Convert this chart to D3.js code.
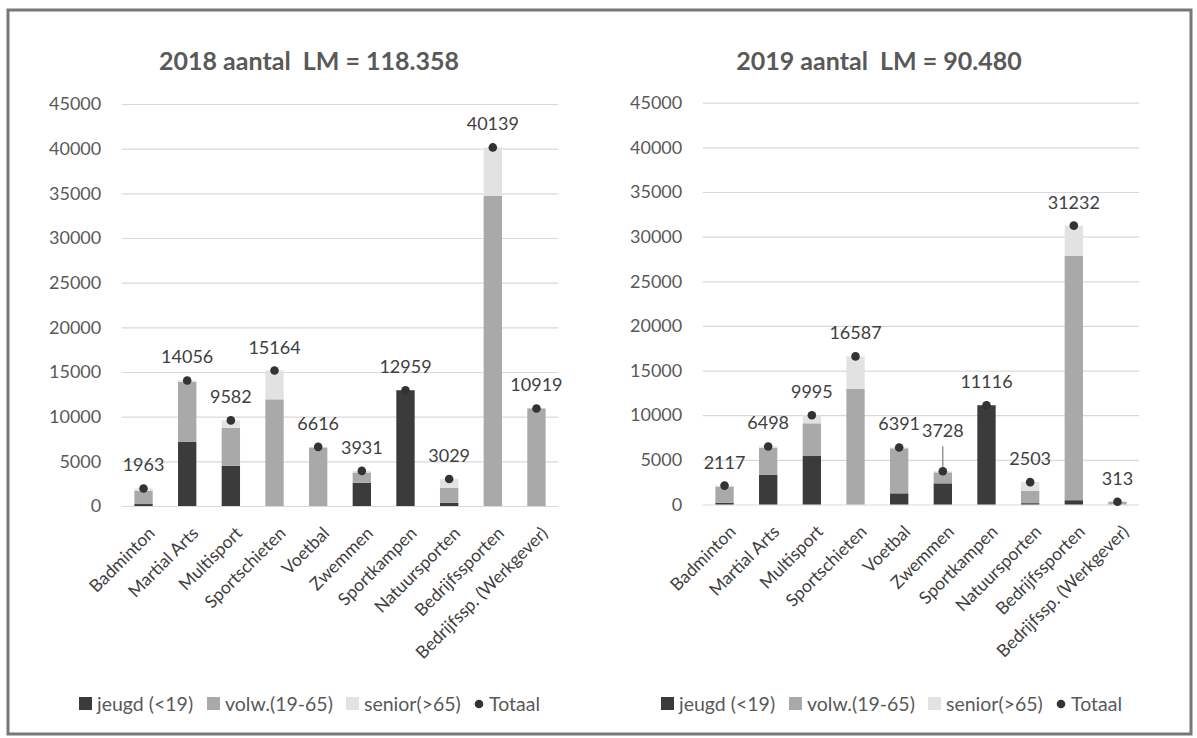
<!DOCTYPE html>
<html>
<head>
<meta charset="utf-8">
<script src="https://cdnjs.cloudflare.com/ajax/libs/d3/7.8.5/d3.min.js"></script>
<style>
  html, body { margin: 0; padding: 0; background: #ffffff; }
  svg text { font-family: Lato, "Open Sans", sans-serif; }
</style>
</head>
<body>
<svg id="chart" width="1197" height="738"></svg>
<script>
// ---------- data ----------
const categories = ["Badminton", "Martial Arts", "Multisport", "Sportschieten", "Voetbal",
  "Zwemmen", "Sportkampen", "Natuursporten", "Bedrijfssporten", "Bedrijfssp. (Werkgever)"];

const jeugd2018  = [220, 7200, 4510, 0, 0, 2600, 12959, 370, 0, 0];
const volw2018   = [1460, 6700, 4250, 11940, 6560, 1150, 0, 1680, 34700, 10919];
const senior2018 = [283, 156, 822, 3224, 56, 181, 0, 979, 5439, 0];
const totaal2018 = [1963, 14056, 9582, 15164, 6616, 3931, 12959, 3029, 40139, 10919];

const jeugd2019  = [200, 3350, 5430, 0, 1250, 2370, 11116, 150, 480, 0];
const volw2019   = [1810, 3010, 3660, 12940, 5040, 1230, 0, 1370, 27350, 313];
const senior2019 = [107, 138, 905, 3647, 101, 128, 0, 983, 3402, 0];
const totaal2019 = [2117, 6498, 9995, 16587, 6391, 3728, 11116, 2503, 31232, 313];

const yTicks = [0, 5000, 10000, 15000, 20000, 25000, 30000, 35000, 40000, 45000];
const seriesNames = ["jeugd (<19)", "volw.(19-65)", "senior(>65)", "Totaal"];
const titles = ["2018 aantal  LM = 118.358", "2019 aantal  LM = 90.480"];

// ---------- style ----------
const colors = { jeugd: "#3b3b3b", volw: "#a9a9a9", senior: "#e2e2e2", dot: "#333333" };
const textCol = "#595959";
const labelCol = "#404040";

const svg = d3.select("#chart");

// outer frame
svg.append("rect").attr("x", 8).attr("y", 10).attr("width", 1183).attr("height", 724)
  .attr("fill", "none").attr("stroke", "#777777").attr("stroke-width", 3);

const panels = [
  { title: titles[0], jeugd: jeugd2018, volw: volw2018, senior: senior2018, totaal: totaal2018,
    x0: 121.7, x1: 558.3, yb: 506, yt: 104, titleX: 309, legendX: 79, lift: {} },
  { title: titles[1], jeugd: jeugd2019, volw: volw2019, senior: senior2019, totaal: totaal2019,
    x0: 702.7, x1: 1139.3, yb: 504.5, yt: 102.7, titleX: 879, legendX: 661, lift: { "Zwemmen": 17 } }
];

panels.forEach(p => {
  const g = svg.append("g");
  const x = d3.scaleBand().domain(categories).range([p.x0, p.x1]).paddingInner(0.58).paddingOuter(0.29);
  const y = d3.scaleLinear().domain([0, 45000]).range([p.yb, p.yt]);
  const cx = c => x(c) + x.bandwidth() / 2;

  // title
  g.append("text").attr("x", p.titleX).attr("y", 70).attr("text-anchor", "middle")
    .style("white-space", "pre").attr("font-size", 25).attr("font-weight", "bold")
    .attr("fill", textCol).text(p.title);

  // y axis with gridlines
  const ax = g.append("g").attr("transform", `translate(${p.x0},0)`)
    .call(d3.axisLeft(y).tickValues(yTicks).tickSize(-(p.x1 - p.x0)).tickPadding(20.5).tickFormat(d3.format("d")));
  ax.select(".domain").remove();
  ax.selectAll(".tick line").attr("stroke", "#d9d9d9").attr("stroke-width", 1.2);
  ax.selectAll(".tick text").attr("fill", textCol).attr("font-size", 18)
    .attr("font-family", "Lato, 'Open Sans', sans-serif");

  // stacked bars
  const rows = categories.map((c, i) => ({ cat: c, jeugd: p.jeugd[i], volw: p.volw[i], senior: p.senior[i] }));
  const stack = d3.stack().keys(["jeugd", "volw", "senior"])(rows);
  g.selectAll("g.layer").data(stack).join("g").attr("class", "layer")
    .attr("fill", d => colors[d.key])
    .selectAll("rect").data(d => d).join("rect")
    .attr("x", d => x(d.data.cat)).attr("width", x.bandwidth())
    .attr("y", d => y(d[1])).attr("height", d => y(d[0]) - y(d[1]));

  // total dots
  const tot = categories.map((c, i) => ({ cat: c, v: p.totaal[i] }));
  g.selectAll("circle.tot").data(tot).join("circle").attr("class", "tot")
    .attr("cx", d => cx(d.cat)).attr("cy", d => y(d.v)).attr("r", 4.3)
    .attr("fill", colors.dot);

  // leader lines for lifted labels
  g.selectAll("line.lead").data(tot.filter(d => p.lift[d.cat])).join("line").attr("class", "lead")
    .attr("x1", d => cx(d.cat)).attr("x2", d => cx(d.cat))
    .attr("y1", d => y(d.v) - 4).attr("y2", d => y(d.v) - 17 - p.lift[d.cat] + 9)
    .attr("stroke", "#666").attr("stroke-width", 1);

  // data labels
  g.selectAll("text.val").data(tot).join("text").attr("class", "val")
    .attr("x", d => cx(d.cat))
    .attr("y", d => y(d.v) - 17 - (p.lift[d.cat] || 0))
    .attr("text-anchor", "middle").attr("font-size", 18).attr("fill", labelCol)
    .text(d => d.v);

  // category labels
  g.selectAll("text.cat").data(categories).join("text").attr("class", "cat")
    .attr("transform", d => `translate(${cx(d) + 8},${p.yb + 24}) rotate(-45)`)
    .attr("text-anchor", "end").attr("dy", "0.35em").attr("font-size", 17.5).attr("fill", labelCol)
    .text(d => d);

  // legend
  const lg = g.append("g").attr("transform", `translate(${p.legendX},704)`);
  const legendX = [0, 128, 267, 394];
  const legendKeys = ["jeugd", "volw", "senior", "dot"];
  seriesNames.forEach((name, i) => {
    const it = lg.append("g").attr("transform", `translate(${legendX[i]},0)`);
    if (legendKeys[i] === "dot") {
      it.append("circle").attr("cx", 6).attr("cy", 0).attr("r", 4.3).attr("fill", colors.dot);
      it.append("text").attr("x", 16).attr("y", 0).attr("dy", "0.35em").attr("font-size", 19.5)
        .attr("fill", textCol).text(name);
    } else {
      it.append("rect").attr("x", 0).attr("y", -7).attr("width", 13).attr("height", 13).attr("fill", colors[legendKeys[i]]);
      it.append("text").attr("x", 18).attr("y", 0).attr("dy", "0.35em").attr("font-size", 19.5)
        .attr("fill", textCol).text(name);
    }
  });
});
</script>
</body>
</html>
